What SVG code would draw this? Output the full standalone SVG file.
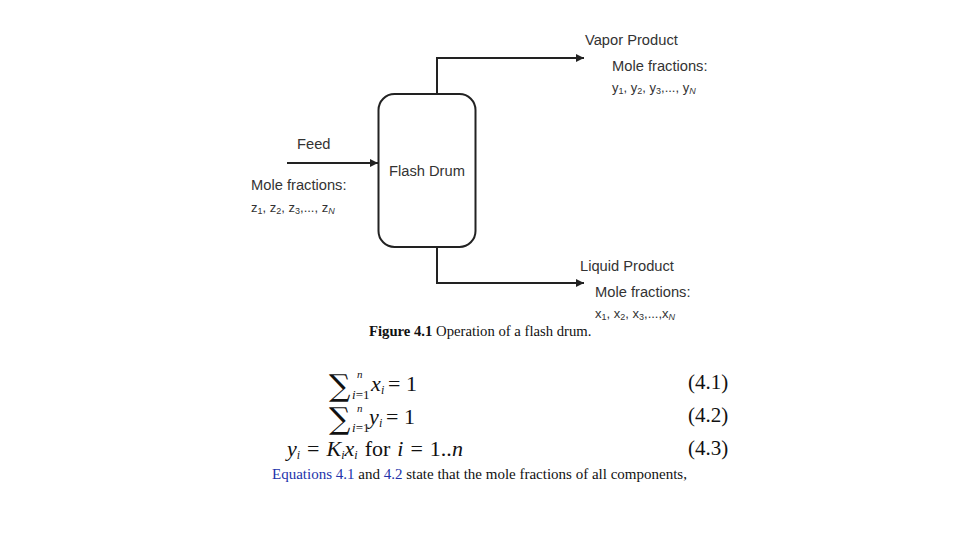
<svg xmlns="http://www.w3.org/2000/svg" width="960" height="540" viewBox="0 0 960 540">
<defs>
<marker id="arr" viewBox="0 0 10 10" refX="10" refY="5" markerWidth="8" markerHeight="8" markerUnits="userSpaceOnUse" orient="auto"><path d="M0,0 L10,5 L0,10 z" fill="#222"/></marker>
<style>
.s{font-family:"Liberation Sans",Arial,sans-serif;font-size:14.7px;fill:#333}
.ss{font-family:"Liberation Sans",Arial,sans-serif;font-size:13px;fill:#333}
.sub{font-size:9px}
.ser{font-family:"Liberation Serif","Times New Roman",serif;fill:#111}
.m{font-family:"Liberation Serif","Times New Roman",serif;fill:#111;font-size:22px}
.mn{font-family:"Liberation Serif","Times New Roman",serif;fill:#111;font-size:21px}
.sig{font-family:"DejaVu Serif","Liberation Serif",serif;fill:#111;font-size:30px}
.sm{font-family:"Liberation Serif","Times New Roman",serif;fill:#111;font-size:13px;font-style:italic}
.sn{font-family:"Liberation Serif","Times New Roman",serif;fill:#111;font-size:11px;font-style:italic}
.mi{font-family:"Liberation Serif","Times New Roman",serif;fill:#111;font-size:12px;font-style:italic}
.it{font-style:italic}
.ln{fill:none;stroke:#222;stroke-width:2}
.blue{fill:#2233aa}
</style>
</defs>
<rect width="960" height="540" fill="#fff"/>
<g id="drum">
<rect x="378.5" y="94" width="97" height="153" rx="16" ry="16" fill="#fff" stroke="#222" stroke-width="2"/>
<text class="s" x="389" y="176">Flash Drum</text>
</g>
<g id="connectors">
<path class="ln" d="M287,163 H378" marker-end="url(#arr)"/>
<path class="ln" d="M437,94 V58 H584" marker-end="url(#arr)"/>
<path class="ln" d="M437,247 V283 H584" marker-end="url(#arr)"/>
</g>
<g id="feed">
<text class="s" x="297" y="149">Feed</text>
<text class="s" x="251" y="190">Mole fractions:</text>
<text class="ss" x="251" y="212">z<tspan class="sub" dy="2">1</tspan><tspan dy="-2">, z</tspan><tspan class="sub" dy="2">2</tspan><tspan dy="-2">, z</tspan><tspan class="sub" dy="2">3</tspan><tspan dy="-2">,..., z</tspan><tspan class="sub it" dy="2">N</tspan></text>
</g>
<g id="vapor">
<text class="s" x="585" y="45">Vapor Product</text>
<text class="s" x="612" y="71">Mole fractions:</text>
<text class="ss" x="612" y="92">y<tspan class="sub" dy="2">1</tspan><tspan dy="-2">, y</tspan><tspan class="sub" dy="2">2</tspan><tspan dy="-2">, y</tspan><tspan class="sub" dy="2">3</tspan><tspan dy="-2">,..., y</tspan><tspan class="sub it" dy="2">N</tspan></text>
</g>
<g id="liquid">
<text class="s" x="580" y="271">Liquid Product</text>
<text class="s" x="595" y="297">Mole fractions:</text>
<text class="ss" x="595" y="318">x<tspan class="sub" dy="2">1</tspan><tspan dy="-2">, x</tspan><tspan class="sub" dy="2">2</tspan><tspan dy="-2">, x</tspan><tspan class="sub" dy="2">3</tspan><tspan dy="-2">,...,x</tspan><tspan class="sub it" dy="2">N</tspan></text>
</g>
<g id="caption">
<text class="ser" x="369" y="336" style="font-size:14.7px"><tspan font-weight="bold">Figure 4.1</tspan> Operation of a flash drum.</text>
</g>
<g id="equations">
<text class="sig" x="329" y="396">∑</text>
<text class="sn" x="357" y="378">n</text>
<text class="sm" x="352" y="399">i<tspan font-style="normal">=1</tspan></text>
<text class="m it" x="371" y="391">x</text>
<text class="mi" x="381" y="394">i</text>
<text class="m" x="388" y="391">= 1</text>
<text class="sig" x="329" y="429">∑</text>
<text class="sn" x="357" y="412">n</text>
<text class="sm" x="352" y="432">i<tspan font-style="normal">=1</tspan></text>
<text class="m it" x="369" y="424">y</text>
<text class="mi" x="379" y="427">i</text>
<text class="m" x="386" y="424">= 1</text>
<text class="m it" x="287" y="456" style="word-spacing:1.5px">y<tspan font-size="12" dy="3">i</tspan><tspan font-style="normal" dy="-3"> = </tspan>K<tspan font-size="12" dy="3">i</tspan><tspan dy="-3">x</tspan><tspan font-size="12" dy="3">i</tspan><tspan font-style="normal" dy="-3">  for </tspan>i<tspan font-style="normal"> = 1..</tspan>n</text>
<text class="mn" x="688" y="389">(4.1)</text>
<text class="mn" x="688" y="422">(4.2)</text>
<text class="mn" x="688" y="455">(4.3)</text>
</g>
<g id="bodytext">
<text class="ser" x="272" y="479" style="font-size:15px"><tspan class="blue">Equations 4.1</tspan> and <tspan class="blue">4.2</tspan> state that the mole fractions of all components,</text>
</g>
</svg>
